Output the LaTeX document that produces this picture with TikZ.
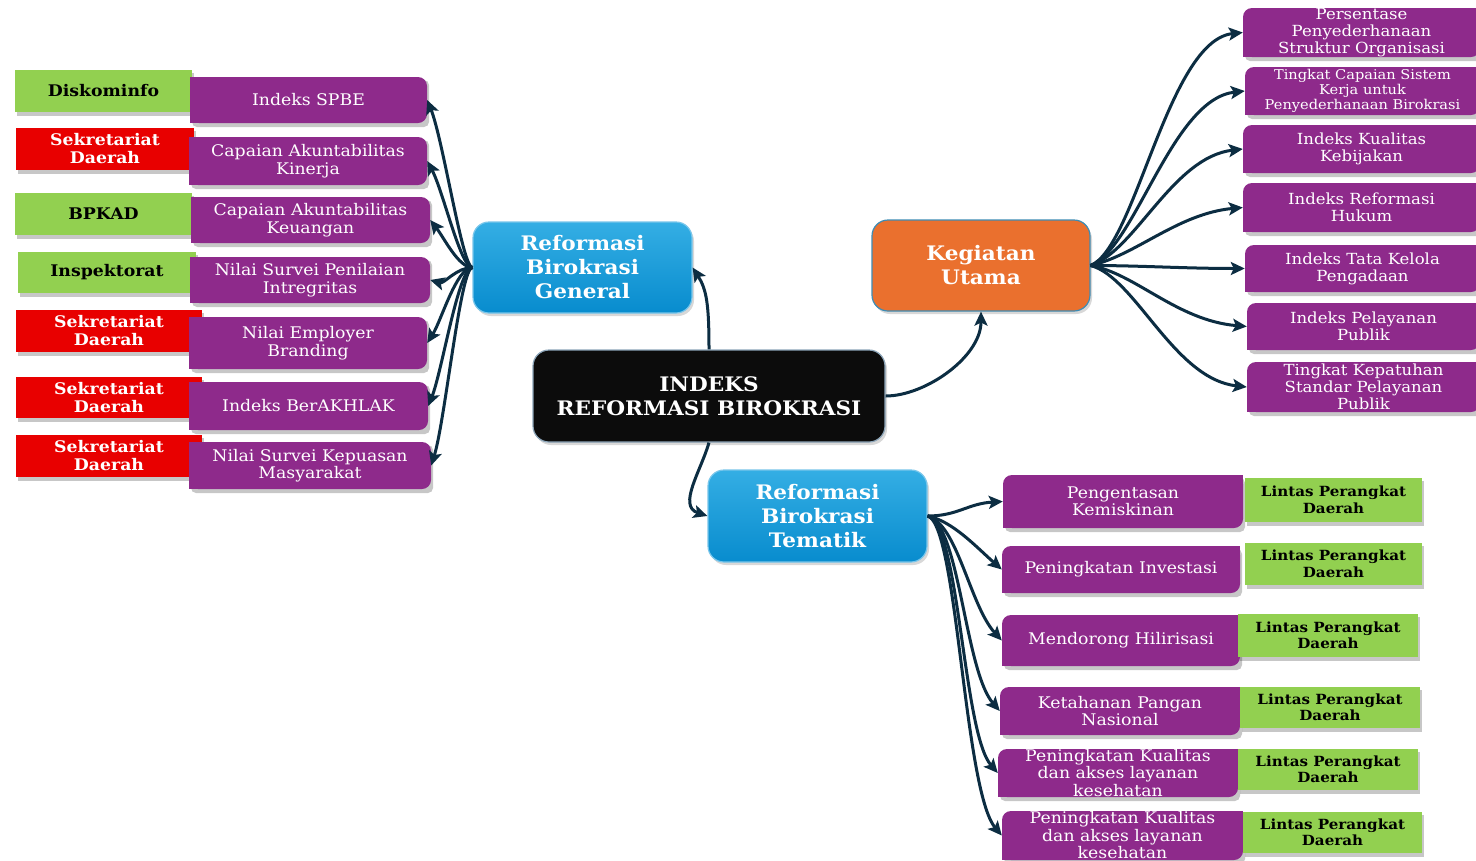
\documentclass[tikz,border=0pt]{standalone}
\usepackage{fontspec}
\setmainfont{DejaVu Serif}[FakeStretch=1.08]
\usetikzlibrary{arrows.meta,shadows}

\definecolor{mpurple}{RGB}{142,42,139}
\definecolor{mgreen}{RGB}{146,208,80}
\definecolor{mred}{RGB}{232,0,0}
\definecolor{btop}{RGB}{52,174,228}
\definecolor{bbot}{RGB}{8,140,206}
\definecolor{bedge}{RGB}{120,198,235}
\definecolor{morange}{RGB}{234,112,46}
\definecolor{oedge}{RGB}{62,140,180}
\definecolor{coreblk}{RGB}{12,12,12}
\definecolor{coreedge}{RGB}{140,165,185}
\definecolor{linkc}{RGB}{12,45,66}

\tikzset{
  ptxt/.style={text=white, align=center, inner sep=0pt, font=\fontsize{16}{17.5}\selectfont},
  rtxt/.style={text=white, align=center, inner sep=0pt, font=\fontsize{15.3}{17}\selectfont},
  stxt/.style={text=white, align=center, inner sep=0pt, font=\fontsize{13.5}{15}\selectfont},
  labtxt/.style={align=center, inner sep=0pt, font=\bfseries\fontsize{16}{18}\selectfont},
  gbox/.style={labtxt, fill=mgreen, text=black},
  rbox/.style={labtxt, fill=mred, text=white},
  lbox/.style={gbox, font=\bfseries\fontsize{14}{16.5}\selectfont},
  hub/.style={rounded corners=16pt, align=center, inner sep=0pt, text=white,
    font=\bfseries\fontsize{20}{24}\selectfont, line width=1.2pt,
    drop shadow={shadow xshift=2pt, shadow yshift=-3pt, opacity=0.3}},
  conn/.style={draw=linkc, line width=3pt, -{Stealth[length=14pt,width=13pt,inset=3pt]}}
}

% soft offset shadow under a box
\newcommand\shad[4]{\fill[black,opacity=0.22,rounded corners=5pt] (#1+2,#2+3) rectangle (#3+2,#4+4);}
% purple box with rounded right corners: name, x1, y1, x2, y2, text style, text
\newcommand\boxR[7]{%
  \shad{#2}{#3}{#4}{#5}
  \fill[mpurple,rounded corners=9pt] (#2,#3) rectangle (#4,#5);
  \fill[mpurple] (#2,#3) rectangle ({(#2+#4)/2},#5);
  \node[#6,minimum width=#4pt-#2pt,minimum height=#5pt-#3pt] (#1) at ({(#2+#4)/2},{(#3+#5)/2}) {#7};}
% purple box with rounded top-left and bottom-right corners
\newcommand\boxD[7]{%
  \shad{#2}{#3}{#4}{#5}
  \fill[mpurple,rounded corners=9pt] (#2,#3) rectangle (#4,#5);
  \fill[mpurple] ({(#2+#4)/2},#3) rectangle (#4,{(#3+#5)/2});
  \fill[mpurple] (#2,{(#3+#5)/2}) rectangle ({(#2+#4)/2},#5);
  \node[#6,minimum width=#4pt-#2pt,minimum height=#5pt-#3pt] (#1) at ({(#2+#4)/2},{(#3+#5)/2}) {#7};}
% flat label box: name, x1, y1, x2, y2, style, text
\newcommand\lab[7]{%
  \fill[black,opacity=0.22] (#2+2,#3+3) rectangle (#4+2,#5+4);
  \node[#6,minimum width=#4pt-#2pt,minimum height=#5pt-#3pt] (#1) at ({(#2+#4)/2},{(#3+#5)/2}) {#7};}

\begin{document}
\begin{tikzpicture}[x=1pt,y=-1pt]
\useasboundingbox (0,0) rectangle (1476,860);
\fill[white] (0,0) rectangle (1476,860);
\clip (0,0) rectangle (1476,860);

% ---------- left column: responsible units ----------
\lab{u1}{15}{70}{192}{112}{gbox}{Diskominfo}
\lab{u2}{16}{128}{194}{170}{rbox}{Sekretariat\\Daerah}
\lab{u3}{15}{193}{192}{235}{gbox}{BPKAD}
\lab{u4}{18}{252}{196}{293}{gbox}{Inspektorat}
\lab{u5}{16}{310}{202}{352}{rbox}{Sekretariat\\Daerah}
\lab{u6}{16}{377}{202}{418}{rbox}{Sekretariat\\Daerah}
\lab{u7}{16}{435}{202}{477}{rbox}{Sekretariat\\Daerah}

% ---------- left column: general indicators ----------
\boxR{spbe}{190}{77}{427}{123}{ptxt}{Indeks SPBE}
\boxR{akin}{189}{137}{427}{185}{ptxt}{Capaian Akuntabilitas\\Kinerja}
\boxR{akeu}{191}{197}{430}{243}{ptxt}{Capaian Akuntabilitas\\Keuangan}
\boxR{integ}{190}{257}{430}{303}{ptxt}{Nilai Survei Penilaian\\Intregritas}
\boxR{employ}{189}{317}{427}{369}{ptxt}{Nilai Employer\\Branding}
\boxR{akhlak}{189}{382}{428}{430}{ptxt}{Indeks BerAKHLAK}
\boxR{puas}{189}{442}{431}{489}{ptxt}{Nilai Survei Kepuasan\\Masyarakat}

% ---------- right column: main activities ----------
\boxD{persen}{1243}{8}{1480}{57}{rtxt}{Persentase\\Penyederhanaan\\Struktur Organisasi}
\boxD{tcap}{1245}{67}{1480}{115}{stxt}{Tingkat Capaian Sistem\\Kerja untuk\\Penyederhanaan Birokrasi}
\boxD{kual}{1243}{125}{1480}{173}{rtxt}{Indeks Kualitas\\Kebijakan}
\boxD{hukum}{1243}{183}{1480}{232}{rtxt}{Indeks Reformasi\\Hukum}
\boxD{tata}{1245}{245}{1480}{292}{rtxt}{Indeks Tata Kelola\\Pengadaan}
\boxD{pelay}{1247}{303}{1480}{350}{rtxt}{Indeks Pelayanan\\Publik}
\boxD{patuh}{1247}{362}{1480}{412}{rtxt}{Tingkat Kepatuhan\\Standar Pelayanan\\Publik}

% ---------- bottom: thematic indicators ----------
\boxD{miskin}{1003}{475}{1243}{528}{ptxt}{Pengentasan\\Kemiskinan}
\boxD{invest}{1002}{546}{1240}{593}{ptxt}{Peningkatan Investasi}
\boxD{hilir}{1002}{615}{1240}{666}{ptxt}{Mendorong Hilirisasi}
\boxD{pangan}{1000}{687}{1240}{735}{ptxt}{Ketahanan Pangan\\Nasional}
\boxD{sehatA}{998}{749}{1238}{797}{ptxt}{Peningkatan Kualitas\\dan akses layanan\\kesehatan}
\boxD{sehatB}{1002}{811}{1243}{860}{ptxt}{Peningkatan Kualitas\\dan akses layanan\\kesehatan}

\lab{l1}{1245}{478}{1422}{522}{lbox}{Lintas Perangkat\\Daerah}
\lab{l2}{1245}{543}{1422}{585}{lbox}{Lintas Perangkat\\Daerah}
\lab{l3}{1238}{614}{1418}{657}{lbox}{Lintas Perangkat\\Daerah}
\lab{l4}{1240}{687}{1420}{728}{lbox}{Lintas Perangkat\\Daerah}
\lab{l5}{1238}{749}{1418}{790}{lbox}{Lintas Perangkat\\Daerah}
\lab{l6}{1243}{812}{1422}{853}{lbox}{Lintas Perangkat\\Daerah}

% ---------- hubs ----------
\node[hub, top color=btop, bottom color=bbot, draw=bedge,
      minimum width=219pt, minimum height=91pt] (gen) at (582.5,267.5) {Reformasi\\Birokrasi\\General};
\node[hub, fill=morange, draw=oedge,
      minimum width=218pt, minimum height=91pt] (keg) at (981,265.5) {Kegiatan\\Utama};
\node[hub, top color=btop, bottom color=bbot, draw=bedge,
      minimum width=219pt, minimum height=92pt] (tem) at (817.5,516) {Reformasi\\Birokrasi\\Tematik};
\node[hub, fill=coreblk, draw=coreedge,
      minimum width=352pt, minimum height=92pt] (core) at (709,396) {INDEKS\\REFORMASI BIROKRASI};

% ---------- connectors ----------
\draw[conn] (core.north) .. controls +(0,-45) and +(14,22) .. (gen.east);
\draw[conn] (core.east) .. controls +(40,0) and +(0,45) .. (keg.south);
\draw[conn] (core.south) .. controls +(-8,28) and +(-30,-10) .. (tem.west);

\draw[conn] (gen.west) .. controls +(-10,0) and +(16,40) .. (spbe.east);
\draw[conn] (gen.west) .. controls +(-12,0) and +(16,30) .. (akin.east);
\draw[conn] (gen.west) .. controls +(-14,0) and +(14,18) .. (akeu.east);
\draw[conn] (gen.west) .. controls +(-16,0) and +(14,4) .. (integ.east);
\draw[conn] (gen.west) .. controls +(-16,0) and +(14,-22) .. (employ.east);
\draw[conn] (gen.west) .. controls +(-14,0) and +(14,-35) .. (akhlak.east);
\draw[conn] (gen.west) .. controls +(-12,0) and +(14,-45) .. (puas.east);

\draw[conn] (keg.east) .. controls +(45,-18) and +(-75,8) .. (persen.west);
\draw[conn] (keg.east) .. controls +(45,-18) and +(-73,8) .. (tcap.west);
\draw[conn] (keg.east) .. controls +(45,-15) and +(-70,8) .. (kual.west);
\draw[conn] (keg.east) .. controls +(45,-10) and +(-65,6) .. (hukum.west);
\draw[conn] (keg.east) .. controls +(50,0) and +(-60,0) .. (tata.west);
\draw[conn] (keg.east) .. controls +(45,8) and +(-70,-6) .. (pelay.west);
\draw[conn] (keg.east) .. controls +(45,12) and +(-73,-8) .. (patuh.west);

\draw[conn] (tem.east) .. controls +(30,0) and +(-35,2) .. (miskin.west);
\draw[conn] (tem.east) .. controls +(25,5) and +(-25,-22) .. (invest.west);
\draw[conn] (tem.east) .. controls +(30,8) and +(-32,-35) .. (hilir.west);
\draw[conn] (tem.east) .. controls +(32,8) and +(-35,-40) .. (pangan.west);
\draw[conn] (tem.east) .. controls +(32,8) and +(-35,-40) .. (sehatA.west);
\draw[conn] (tem.east) .. controls +(30,8) and +(-38,-45) .. (sehatB.west);
\end{tikzpicture}
\end{document}
